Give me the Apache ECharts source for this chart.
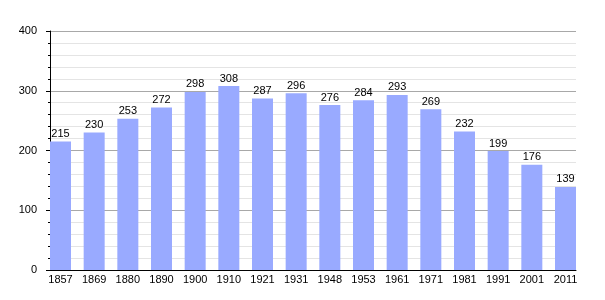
<!DOCTYPE html>
<html>
<head>
<meta charset="utf-8">
<script src="https://cdn.jsdelivr.net/npm/echarts@6/dist/echarts.min.js"></script>
<style>html,body{margin:0;padding:0;background:#fff}#c{width:605px;height:300px}</style>
</head>
<body>
<div id="c"></div>
<script>
var years = ['1857','1869','1880','1890','1900','1910','1921','1931','1948','1953','1961','1971','1981','1991','2001','2011'];
var population = [215,230,253,272,298,308,287,296,276,284,293,269,232,199,176,139];
var yTicks = [0,100,200,300,400];

var idx = years.map(function(_, i){ return i; });
var chart = echarts.init(document.getElementById('c'), null, {renderer:'canvas'});
chart.setOption({
  animation: false,
  backgroundColor: '#fff',
  textStyle: {fontFamily: 'Liberation Sans, Arial, sans-serif'},
  grid: {left: 50, right: 29, top: 31, bottom: 30},
  xAxis: {
    type: 'value',
    min: -0.312, max: years.length - 1 + 0.312,
    axisLine: {show: true, onZero: false, lineStyle: {color: '#000', width: 1}},
    axisTick: {show: false},
    splitLine: {show: false},
    axisLabel: {
      customValues: idx,
      margin: 4,
      color: '#000', fontSize: 11,
      fontFamily: 'Liberation Sans, Arial, sans-serif',
      formatter: function(v){ return years[Math.round(v)]; }
    }
  },
  yAxis: {
    type: 'value',
    min: yTicks[0], max: yTicks[yTicks.length-1], interval: 100,
    axisLine: {show: true, onZero: false, lineStyle: {color: '#000', width: 1}},
    axisTick: {show: true, length: 4, lineStyle: {color: '#000'}},
    minorTick: {show: true, splitNumber: 5, length: 2, lineStyle: {color: '#000'}},
    splitLine: {show: true, lineStyle: {color: '#a8a8a8', width: 1}},
    minorSplitLine: {show: true, lineStyle: {color: '#e4e4e4', width: 1}},
    axisLabel: {margin: 13, color: '#000', fontSize: 11, fontFamily: 'Liberation Sans, Arial, sans-serif'}
  },
  series: [{
    type: 'bar',
    barWidth: 21,
    data: population.map(function(v, i){ return [i, v]; }),
    itemStyle: {color: '#99aaff'},
    label: {
      show: true, position: 'top', distance: 2,
      color: '#000', fontSize: 11,
      fontFamily: 'Liberation Sans, Arial, sans-serif',
      formatter: function(p){ return p.value[1]; }
    }
  }]
});
</script>
</body>
</html>
